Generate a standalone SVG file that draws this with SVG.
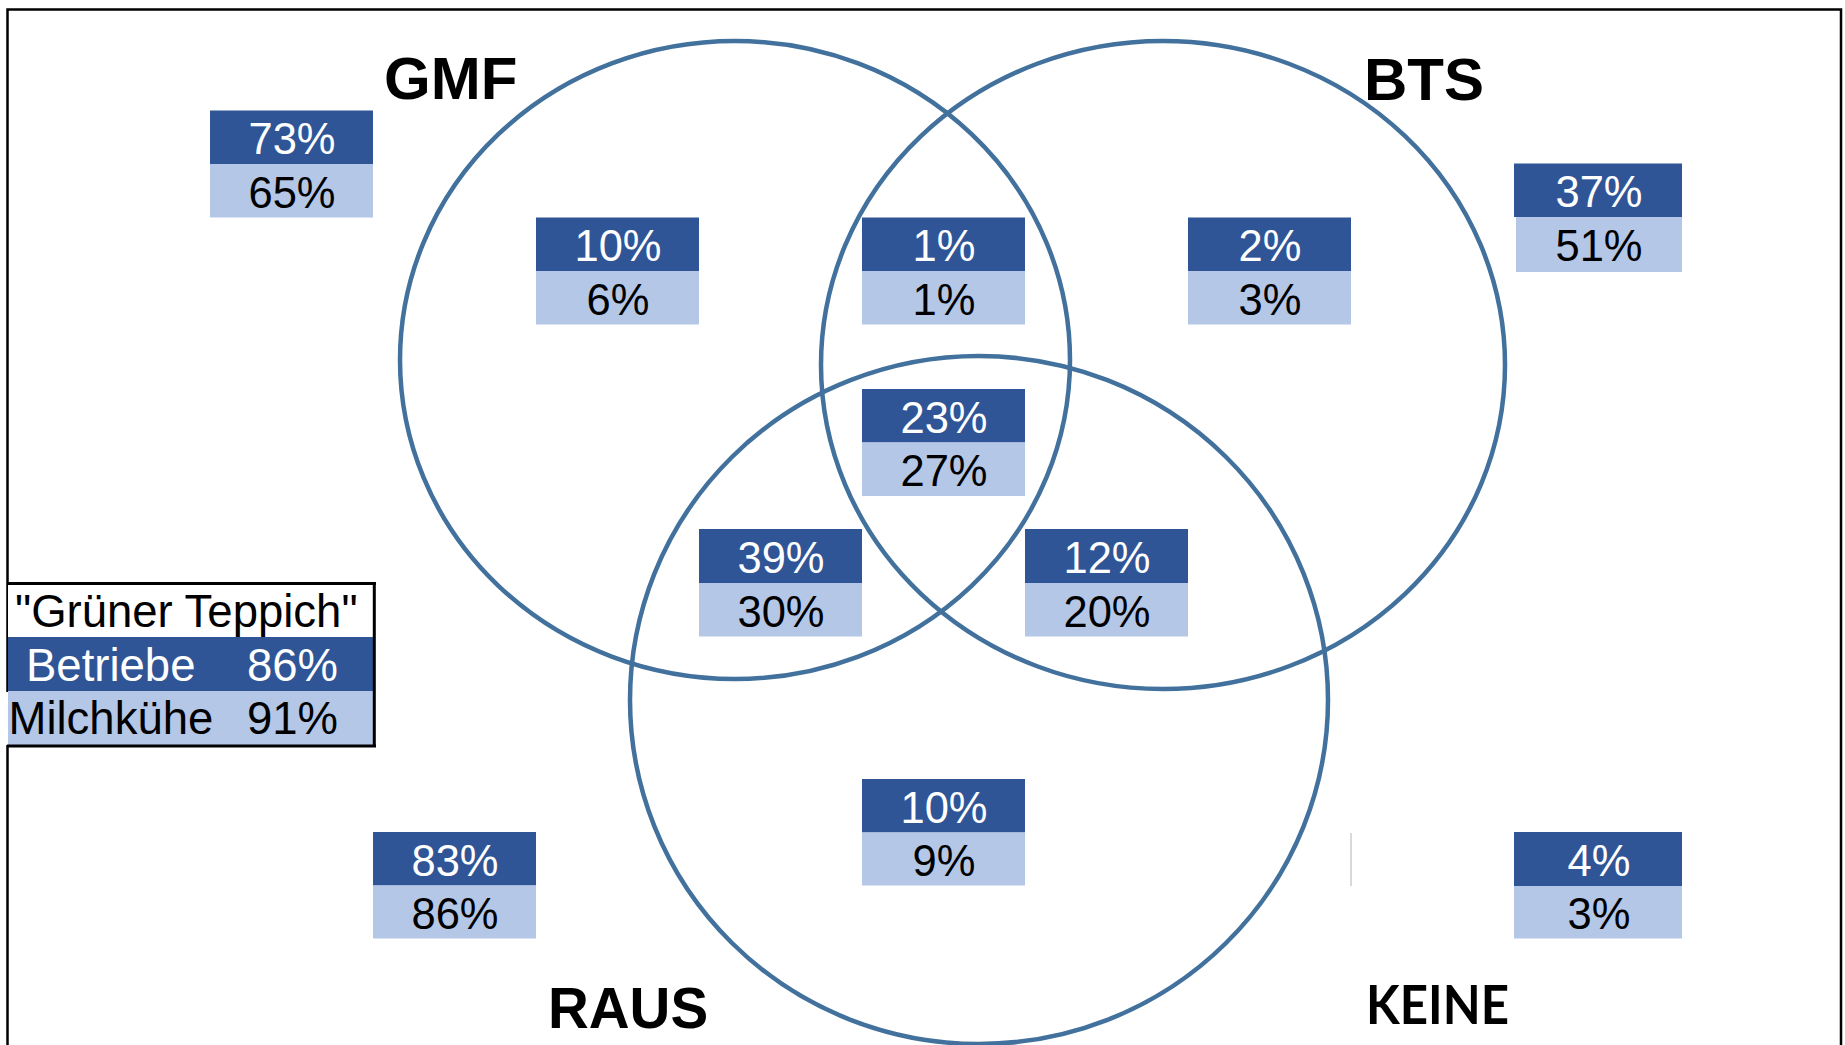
<svg xmlns="http://www.w3.org/2000/svg" width="1845" height="1045" viewBox="0 0 1845 1045">
<style>
.ring{fill:none;stroke:#41719c;stroke-width:4.5}
.dk{fill:#2f5597}
.lt{fill:#b4c7e7}
.pw{font-family:"Liberation Sans",Arial,sans-serif;font-size:43.5px;fill:#ffffff;text-anchor:middle}
.pb{font-family:"Liberation Sans",Arial,sans-serif;font-size:43.5px;fill:#000000;text-anchor:middle}
.lbl{font-family:"Liberation Sans",Arial,sans-serif;font-size:60px;font-weight:bold;fill:#000000}
.raus{font-size:56.5px}
.keine{font-family:Lato,"Liberation Sans",sans-serif;font-size:54px;font-weight:bold;fill:#000000}
.lg{font-family:"Liberation Sans",Arial,sans-serif;font-size:45.5px}
.frame{fill:none;stroke:#000000;stroke-width:2.5}
</style>
<rect x="0" y="0" width="1845" height="1045" fill="#ffffff"/>
<g id="frame">
<path class="frame" d="M7.5,692 V9.5 H1841 V1045"/>
<path class="frame" d="M7.5,745 V1045"/>
</g>
<g id="connectors"/>
<g id="circle-gmf">
<ellipse class="ring" cx="735" cy="360" rx="335" ry="319"/>
<text class="lbl" x="384" y="99">GMF</text>
</g>
<g id="circle-bts">
<ellipse class="ring" cx="1163" cy="365" rx="342" ry="324"/>
<text class="lbl" x="1364" y="100">BTS</text>
</g>
<g id="circle-raus">
<ellipse class="ring" cx="979" cy="700" rx="349" ry="344"/>
<text class="lbl raus" x="548" y="1028">RAUS</text>
</g>
<g id="label-keine">
<text class="keine" x="1366" y="1024" textLength="143" lengthAdjust="spacingAndGlyphs">KEINE</text>
</g>
<g id="box-gmf-only-outside">
<rect class="dk" x="210" y="110.5" width="163" height="53.5"/>
<rect class="lt" x="210" y="164" width="163" height="53.5"/>
<text class="pw" x="292" y="154">73%</text>
<text class="pb" x="292" y="207.5">65%</text>
</g>
<g id="box-gmf">
<rect class="dk" x="536" y="217.5" width="163" height="53.5"/>
<rect class="lt" x="536" y="271" width="163" height="53.5"/>
<text class="pw" x="618" y="261">10%</text>
<text class="pb" x="618" y="314.5">6%</text>
</g>
<g id="box-gmf-bts">
<rect class="dk" x="862" y="217.5" width="163" height="53.5"/>
<rect class="lt" x="862" y="271" width="163" height="53.5"/>
<text class="pw" x="944" y="261">1%</text>
<text class="pb" x="944" y="314.5">1%</text>
</g>
<g id="box-bts">
<rect class="dk" x="1188" y="217.5" width="163" height="53.5"/>
<rect class="lt" x="1188" y="271" width="163" height="53.5"/>
<text class="pw" x="1270" y="261">2%</text>
<text class="pb" x="1270" y="314.5">3%</text>
</g>
<g id="box-bts-outside">
<rect class="dk" x="1514" y="163.5" width="168" height="53.5"/>
<rect class="lt" x="1516" y="217" width="166" height="55"/>
<text class="pw" x="1599" y="207">37%</text>
<text class="pb" x="1599" y="261">51%</text>
</g>
<g id="box-all">
<rect class="dk" x="862" y="389" width="163" height="53.5"/>
<rect class="lt" x="862" y="442.5" width="163" height="53.5"/>
<text class="pw" x="944" y="432.5">23%</text>
<text class="pb" x="944" y="486">27%</text>
</g>
<g id="box-gmf-raus">
<rect class="dk" x="699" y="529" width="163" height="54"/>
<rect class="lt" x="699" y="583" width="163" height="53.5"/>
<text class="pw" x="781" y="572.5">39%</text>
<text class="pb" x="781" y="626.5">30%</text>
</g>
<g id="box-bts-raus">
<rect class="dk" x="1025" y="529" width="163" height="54"/>
<rect class="lt" x="1025" y="583" width="163" height="53.5"/>
<text class="pw" x="1107" y="572.5">12%</text>
<text class="pb" x="1107" y="626.5">20%</text>
</g>
<g id="box-raus">
<rect class="dk" x="862" y="779" width="163" height="53.5"/>
<rect class="lt" x="862" y="832.5" width="163" height="53"/>
<text class="pw" x="944" y="822.5">10%</text>
<text class="pb" x="944" y="876">9%</text>
</g>
<g id="box-raus-outside">
<rect class="dk" x="373" y="832" width="163" height="53.5"/>
<rect class="lt" x="373" y="885.5" width="163" height="53"/>
<text class="pw" x="455" y="875.5">83%</text>
<text class="pb" x="455" y="929">86%</text>
</g>
<g id="box-keine">
<line x1="1351" y1="833" x2="1351" y2="886" stroke="#d9d9d9" stroke-width="2"/>
<rect class="dk" x="1514" y="832" width="168" height="54"/>
<rect class="lt" x="1514" y="886" width="168" height="52.5"/>
<text class="pw" x="1599" y="875.5">4%</text>
<text class="pb" x="1599" y="929">3%</text>
</g>
<g id="legend-gruener-teppich">
<rect x="8" y="584" width="365" height="53" fill="#ffffff"/>
<rect class="dk" x="8" y="637" width="365" height="54"/>
<rect class="lt" x="8" y="691" width="365" height="54"/>
<path d="M7,583.5 H376 M374.3,583.5 V747.5 M7,746 H376" fill="none" stroke="#000000" stroke-width="3"/>
<text class="lg" x="15" y="627" fill="#000000">"Grüner Teppich"</text>
<text class="lg" x="26" y="680.5" fill="#ffffff">Betriebe</text>
<text class="lg" x="247" y="680.5" fill="#ffffff">86%</text>
<text class="lg" x="8.5" y="734" fill="#000000">Milchkühe</text>
<text class="lg" x="247" y="734" fill="#000000">91%</text>
</g>
</svg>
